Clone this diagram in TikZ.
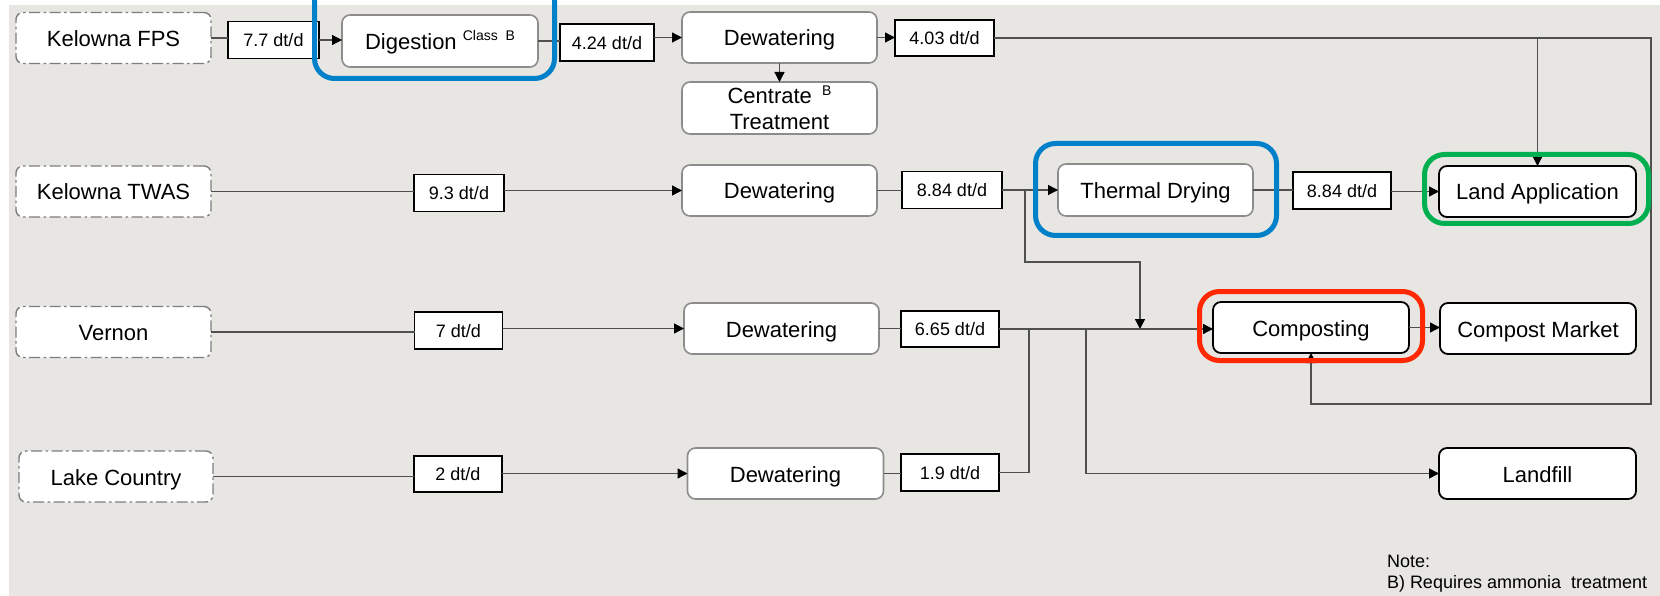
\documentclass[tikz,border=0pt]{standalone}
\usepackage{fontspec}
\setmainfont{Liberation Sans}
\usetikzlibrary{arrows.meta}

\definecolor{bgc}{RGB}{231,230,226}
\definecolor{procgray}{RGB}{140,140,140}
\definecolor{srcgray}{RGB}{125,125,125}
\definecolor{linec}{RGB}{80,80,80}
\definecolor{hlblue}{RGB}{0,128,200}
\definecolor{hlgreen}{RGB}{0,176,80}
\definecolor{hlred}{RGB}{255,40,0}

\newcommand{\supnote}[1]{{\fontsize{14}{14}\selectfont\raisebox{8.5pt}{#1}}}

\begin{document}
\begin{tikzpicture}[x=1pt,y=-1pt,
  every node/.style={inner sep=0pt, outer sep=0pt},
  boxtext/.style={font=\fontsize{22}{26}\selectfont, align=center},
  oneline/.style={text height=20pt, text depth=3pt},
  srcbox/.style={boxtext, oneline, draw=srcgray, line width=1.4pt,
    dash pattern=on 11pt off 3.5pt on 2.5pt off 3.5pt,
    fill=white, rounded corners=7pt, minimum width=195pt, minimum height=51pt},
  proclook/.style={boxtext, draw=procgray, line width=1.6pt, fill=white,
    rounded corners=8pt, minimum width=195pt, minimum height=51pt},
  procbox/.style={proclook, oneline},
  endbox/.style={boxtext, oneline, draw=black, line width=1.8pt, fill=white,
    rounded corners=8pt, minimum width=196pt, minimum height=51pt},
  qtybox/.style={draw=black, line width=1.6pt, fill=white,
    minimum height=37pt, text height=13.5pt, text depth=0pt,
    font=\fontsize{18}{21}\selectfont},
  flow/.style={draw=linec, line width=1.3pt},
  arr/.style={flow, -{Triangle[length=10pt,width=10pt,color=black]}},
  hl/.style={line width=5pt, rounded corners=20pt},
  notetext/.style={font=\fontsize{18}{21}\selectfont, anchor=base west}
]
\useasboundingbox (0,0) rectangle (1660,596);
\fill[white] (0,0) rectangle (1660,596);
\fill[bgc] (9,5) rectangle (1660,596);

% row 1: Kelowna FPS
\node[srcbox] (fps) at (113.5,38) {Kelowna FPS};
\node[qtybox, minimum width=91pt] (q77) at (273.5,40) {7.7 dt/d};
\node[procbox, minimum width=196pt, minimum height=52pt] (dig) at (440,41)
  {Digestion \supnote{Class\ \ B}};
\node[qtybox, minimum width=94pt] (q424) at (607,42.5) {4.24 dt/d};
\node[procbox] (dew1) at (779.5,37.5) {Dewatering};
\node[proclook, minimum height=52pt] (cen) at (779.5,108)
  {Centrate\hspace{4pt} \supnote{B}\\Treatment};
\node[qtybox, minimum width=99pt, minimum height=36pt] (q403) at (944.5,38) {4.03 dt/d};

% row 2: Kelowna TWAS
\node[srcbox] (twas) at (113.5,191.5) {Kelowna TWAS};
\node[qtybox, minimum width=90pt] (q93) at (459,193) {9.3 dt/d};
\node[procbox] (dew2) at (779.5,190.5) {Dewatering};
\node[qtybox, minimum width=100pt] (q884a) at (952,190) {8.84 dt/d};
\node[procbox, minimum height=52pt] (dry) at (1155.5,190) {Thermal Drying};
\node[qtybox, minimum width=98pt] (q884b) at (1342,190.5) {8.84 dt/d};
\node[endbox, minimum width=197pt] (land) at (1537.5,191.5) {Land Application};

% row 3: Vernon
\node[srcbox] (vern) at (113.5,332) {Vernon};
\node[qtybox, minimum width=88pt] (q7) at (458.5,330.5) {7 dt/d};
\node[procbox] (dew3) at (781.5,328.5) {Dewatering};
\node[qtybox, minimum width=98pt, minimum height=36pt] (q665) at (950,329) {6.65 dt/d};
\node[endbox] (comp) at (1311,327.5) {Composting};
\node[endbox] (mkt) at (1538,328.5) {Compost Market};

% row 4: Lake Country
\node[srcbox, minimum width=194pt] (lake) at (116,476.5) {Lake Country};
\node[qtybox, minimum width=88pt, minimum height=36pt] (q2) at (458,474) {2 dt/d};
\node[procbox, minimum width=196pt] (dew4) at (785.5,473.5) {Dewatering};
\node[qtybox, minimum width=98pt] (q19) at (950,472.5) {1.9 dt/d};
\node[endbox, minimum width=197pt] (lfill) at (1537.5,473.5) {Landfill};

% routing points
\coordinate (cTR) at (1651,38);
\coordinate (cBR) at (1651,404);
\coordinate (jA) at (1025,190);
\coordinate (jB) at (1140,262);
\coordinate (jC) at (1029,329);
\coordinate (jD) at (1086,329);

% row 1 flows
\draw[flow] (fps.east) -- (fps.east -| q77.west);
\draw[arr] (q77.east) -- (q77.east -| dig.west);
\draw[flow] (dig.east) -- (dig.east -| q424.west);
\draw[arr] (q424.east |- dew1.west) -- (dew1.west);
\draw[arr] (dew1.south) -- (cen.north);
\draw[arr] (dew1.east) -- (dew1.east -| q403.west);
\draw[arr] (q403.east) -- (cTR) -- (cBR) -| (comp.south);
\draw[arr] (q403.east -| land.north) -- (land.north);

% row 2 flows
\draw[flow] (twas.east) -- (twas.east -| q93.west);
\draw[arr] (q93.east |- dew2.west) -- (dew2.west);
\draw[flow] (dew2.east) -- (dew2.east -| q884a.west);
\draw[arr] (q884a.east |- dry.west) -- (dry.west);
\draw[arr] (jA) |- (jB) -- (jB |- jC);
\draw[flow] (dry.east) -- (dry.east -| q884b.west);
\draw[arr] (q884b.east |- land.west) -- (land.west);

% row 3 flows
\draw[flow] (vern.east) -- (vern.east -| q7.west);
\draw[arr] (q7.east |- dew3.west) -- (dew3.west);
\draw[flow] (dew3.east) -- (dew3.east -| q665.west);
\draw[arr] (q665.east) -- (q665.east -| comp.west);
\draw[arr] (comp.east) -- (comp.east -| mkt.west);

% row 4 flows
\draw[flow] (lake.east) -- (lake.east -| q2.west);
\draw[arr] (q2.east |- dew4.west) -- (dew4.west);
\draw[flow] (dew4.east) -- (dew4.east -| q19.west);
\draw[flow] (q19.east) -| (jC);
\draw[arr] (jD) |- (lfill.west);

% highlight frames
\draw[hl, draw=hlblue] (314.5,-40) -- (314.5,78.5) -- (554.5,78.5) -- (554.5,-40);
\draw[hl, draw=hlblue] (1035.5,143.5) rectangle (1276.5,235.5);
\draw[hl, draw=hlgreen] (1424.5,154.5) rectangle (1648.5,223.5);
\draw[hl, draw=hlred] (1199.5,291.5) rectangle (1422.5,360.5);

% footnote
\node[notetext] (note1) at (1387,567) {Note:};
\node[notetext] (note2) at (1387,588) {B) Requires ammonia\ \ treatment};
\end{tikzpicture}
\end{document}
